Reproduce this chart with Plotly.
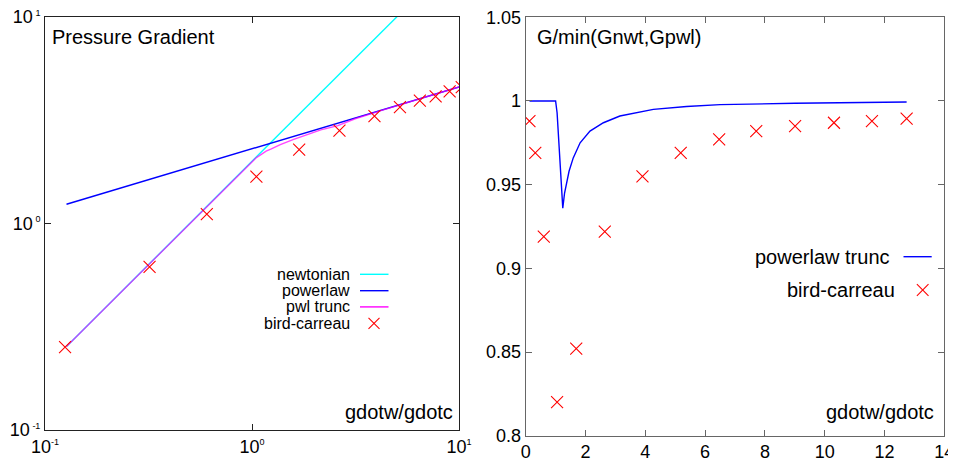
import plotly.graph_objects as go

# ---------------- data ----------------
# left panel: pressure gradient (log-log)
newt_x = [0.127, 12.74]
newt_y = [0.254, 25.48]
pwl_x = [0.127, 12.74]
pwl_y = [1.24, 4.93]
trunc_x = [0.127, 1.0, 1.05, 1.1, 1.17, 1.24, 1.37, 1.59, 1.82, 2.15, 2.6, 3.15, 4.27, 5.38, 6.5, 9.0, 12.74]
trunc_y = [0.254, 2.0, 2.085, 2.149, 2.239, 2.296, 2.409, 2.556, 2.684, 2.842, 2.978, 3.216, 3.538, 3.80, 4.023, 4.44, 4.93]
bc_x = [0.125, 0.32, 0.605, 1.05, 1.69, 2.645, 3.905, 5.185, 6.47, 7.71, 9.01, 10.31, 11.58, 12.74]
bc_G = [0.252, 0.617, 1.109, 1.687, 2.28, 2.82, 3.31, 3.66, 3.94, 4.13, 4.36, 4.57, 4.73, 4.88]
# right panel: G/min(Gnwt,Gpwl)
ratio_x = [0.127, 1.0, 1.05, 1.1, 1.17, 1.24, 1.3, 1.37, 1.45, 1.59, 1.82, 2.15, 2.6, 3.15, 4.27, 5.38, 6.5, 9.0, 12.74]
ratio_trunc = [1.0, 1.0, 0.993, 0.977, 0.957, 0.936, 0.945, 0.952, 0.958, 0.966, 0.975, 0.982, 0.987, 0.991, 0.995, 0.9967, 0.9978, 0.9986, 0.9994]
ratio_bc = [0.988, 0.969, 0.919, 0.820, 0.852, 0.922, 0.955, 0.969, 0.977, 0.982, 0.985, 0.987, 0.988, 0.9895]

log_tickvals = [0.1, 1, 10]
log_ticktext_x = ['10<sup><span style="font-size:9px">-1</span></sup>',
                  '10<sup><span style="font-size:9px">0</span></sup>',
                  '10<sup><span style="font-size:9px">1</span></sup>']
log_ticktext_y = ['10<sup><span style="font-size:9px"> -1</span></sup>',
                  '10<sup><span style="font-size:9px"> 0</span></sup>',
                  '10<sup><span style="font-size:9px"> 1</span></sup>']

# the page body has an 8px margin: map reference pixels onto a 948x455 figure
OFF = 8
W, H = 956 - OFF, 463 - OFF
FONT = "Liberation Sans, Arial, Helvetica, sans-serif"


def px(x):
    return (x - OFF) / W


def py(y):
    return 1 - (y - OFF) / H


fig = go.Figure()

lw = 1.4
fig.add_trace(go.Scatter(x=newt_x, y=newt_y, mode="lines", name="newtonian",
                         line=dict(color="#00ffff", width=lw), xaxis="x", yaxis="y"))
fig.add_trace(go.Scatter(x=pwl_x, y=pwl_y, mode="lines", name="powerlaw",
                         line=dict(color="#0000ff", width=lw), xaxis="x", yaxis="y"))
fig.add_trace(go.Scatter(x=trunc_x, y=trunc_y, mode="lines", name="pwl trunc", opacity=0.72,
                         line=dict(color="#ff00ff", width=lw), xaxis="x", yaxis="y"))
fig.add_trace(go.Scatter(x=bc_x, y=bc_G, mode="markers", name="bird-carreau",
                         marker=dict(symbol="x-thin", size=12, line=dict(color="#ff0000", width=1.1)),
                         xaxis="x", yaxis="y"))

fig.add_trace(go.Scatter(x=ratio_x, y=ratio_trunc, mode="lines", name="powerlaw trunc",
                         line=dict(color="#0000ff", width=lw), xaxis="x2", yaxis="y2"))
fig.add_trace(go.Scatter(x=bc_x, y=ratio_bc, mode="markers", name="bird-carreau",
                         marker=dict(symbol="x-thin", size=12, line=dict(color="#ff0000", width=1.1)),
                         xaxis="x2", yaxis="y2"))

axis_common = dict(showgrid=False, zeroline=False, showline=True, mirror="ticks",
                   ticks="inside", ticklen=6, tickwidth=1, automargin=False,
                   ticklabeloverflow="allow",
                   tickfont=dict(family=FONT, size=18, color="#000"))

fig.update_layout(
    template="none",
    width=W, height=H,
    margin=dict(l=0, r=0, t=0, b=0, pad=0),
    paper_bgcolor="white", plot_bgcolor="white",
    showlegend=False,
    font=dict(family=FONT, color="#000"),
    xaxis=dict(axis_common, type="log", range=[-1, 1], domain=[px(45), px(459)],
               tickvals=log_tickvals, ticktext=log_ticktext_x, anchor="y",
               linecolor="#222", tickcolor="#222"),
    yaxis=dict(axis_common, type="log", range=[-1, 1], domain=[py(430), py(17)],
               tickvals=log_tickvals, ticktext=log_ticktext_y, anchor="x",
               linecolor="#222", tickcolor="#222"),
    xaxis2=dict(axis_common, range=[0, 14], dtick=2, domain=[px(525.7), px(944.3)], anchor="y2",
                linecolor="#666", tickcolor="#666"),
    yaxis2=dict(axis_common, range=[0.8, 1.05], dtick=0.05, domain=[py(435.7), py(17.3)], anchor="x2",
                linecolor="#666", tickcolor="#666"),
)

ann = []
ann.append(dict(text="Pressure Gradient", x=px(50), y=py(37), xanchor="left", yanchor="middle",
                font=dict(size=20)))
ann.append(dict(text="gdotw/gdotc", x=px(455), y=py(412), xanchor="right", yanchor="middle",
                font=dict(size=20)))
ann.append(dict(text="G/min(Gnwt,Gpwl)", x=px(535), y=py(37), xanchor="left", yanchor="middle",
                font=dict(size=20)))
ann.append(dict(text="gdotw/gdotc", x=px(936), y=py(412), xanchor="right", yanchor="middle",
                font=dict(size=20)))

# legend (left panel): text right-aligned, sample to the right
shapes = []
left_leg = [("newtonian", 274.3, "#00ffff", "line"),
            ("powerlaw", 290.7, "#0000ff", "line"),
            ("pwl trunc", 306.9, "#ff00ff", "line"),
            ("bird-carreau", 323.3, "#ff0000", "x")]
for txt, yy, col, kind in left_leg:
    ann.append(dict(text=txt, x=px(352), y=py(yy), xanchor="right", yanchor="middle",
                    font=dict(size=16)))
    if kind == "line":
        shapes.append(dict(type="line", xref="paper", yref="paper", x0=px(360), x1=px(388.5),
                           y0=py(yy), y1=py(yy), line=dict(color=col, width=lw)))
    else:
        cx, cy, r = 374, yy, 5.5
        shapes.append(dict(type="line", xref="paper", yref="paper", x0=px(cx - r), x1=px(cx + r),
                           y0=py(cy - r), y1=py(cy + r), line=dict(color=col, width=1.1)))
        shapes.append(dict(type="line", xref="paper", yref="paper", x0=px(cx - r), x1=px(cx + r),
                           y0=py(cy + r), y1=py(cy - r), line=dict(color=col, width=1.1)))

right_leg = [("powerlaw trunc", 256.7, 892, "#0000ff", "line"),
             ("bird-carreau", 290.0, 897, "#ff0000", "x")]
for txt, yy, xr, col, kind in right_leg:
    ann.append(dict(text=txt, x=px(xr), y=py(yy), xanchor="right", yanchor="middle",
                    font=dict(size=20)))
    if kind == "line":
        shapes.append(dict(type="line", xref="paper", yref="paper", x0=px(903.5), x1=px(931.7),
                           y0=py(yy), y1=py(yy), line=dict(color=col, width=lw)))
    else:
        cx, cy, r = 922.7, yy, 5.8
        shapes.append(dict(type="line", xref="paper", yref="paper", x0=px(cx - r), x1=px(cx + r),
                           y0=py(cy - r), y1=py(cy + r), line=dict(color=col, width=1.1)))
        shapes.append(dict(type="line", xref="paper", yref="paper", x0=px(cx - r), x1=px(cx + r),
                           y0=py(cy + r), y1=py(cy - r), line=dict(color=col, width=1.1)))

for a in ann:
    a.update(xref="paper", yref="paper", showarrow=False)
    a.setdefault("font", {})
    a["font"].update(family=FONT, color="#000")

fig.update_layout(annotations=ann, shapes=shapes)

fig.write_html("out.html")
